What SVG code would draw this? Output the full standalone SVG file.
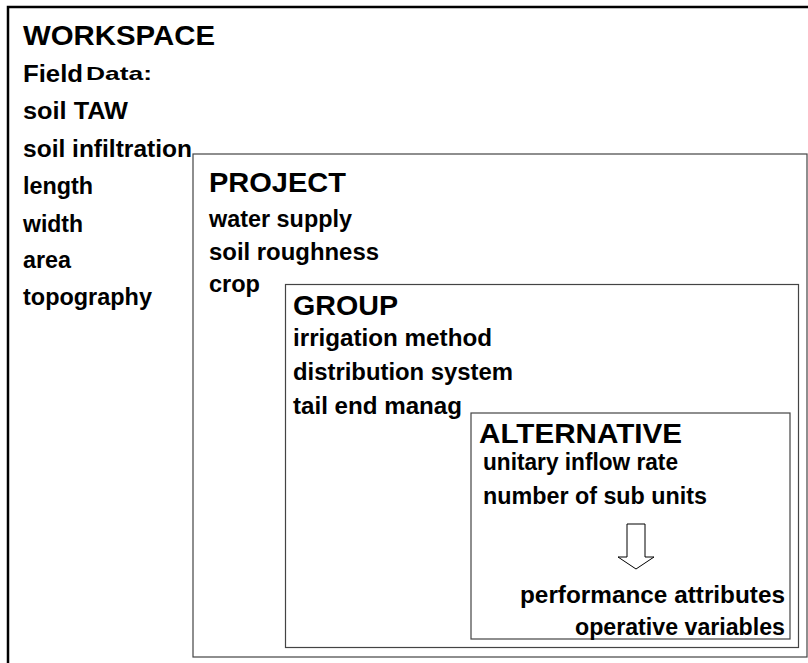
<svg xmlns="http://www.w3.org/2000/svg" width="808" height="663" viewBox="0 0 808 663">
<style>
text{font-family:"Liberation Sans",Arial,sans-serif;font-weight:bold;fill:#000}
.t{font-size:28px}
.b{font-size:23px}
.box{fill:none;stroke:#444;stroke-width:1.2}
</style>
<rect width="808" height="663" fill="#fff"/>
<g id="workspace">
<rect x="8" y="7" width="830" height="690" fill="none" stroke="#000" stroke-width="2.5"/>
<text class="t" x="23" y="45" textLength="192" lengthAdjust="spacingAndGlyphs">WORKSPACE</text>
<text x="23" y="82" style="font-size:24px" textLength="60" lengthAdjust="spacingAndGlyphs">Field</text>
<text x="86" y="80" style="font-size:19px" textLength="66" lengthAdjust="spacingAndGlyphs">Data:</text>
<text class="b" x="23" y="119" textLength="105" lengthAdjust="spacingAndGlyphs">soil  TAW</text>
<text class="b" x="23" y="157" textLength="169" lengthAdjust="spacingAndGlyphs">soil  infiltration</text>
<text class="b" x="23" y="194" textLength="70" lengthAdjust="spacingAndGlyphs">length</text>
<text class="b" x="23" y="232" textLength="60" lengthAdjust="spacingAndGlyphs">width</text>
<text class="b" x="23" y="268" textLength="48" lengthAdjust="spacingAndGlyphs">area</text>
<text class="b" x="23" y="305" textLength="129" lengthAdjust="spacingAndGlyphs">topography</text>
</g>
<g id="project">
<rect class="box" x="193" y="154" width="614" height="503" fill="#fff"/>
<text class="t" x="209" y="192" textLength="137" lengthAdjust="spacingAndGlyphs">PROJECT</text>
<text class="b" x="209" y="227" textLength="143" lengthAdjust="spacingAndGlyphs">water supply</text>
<text class="b" x="209" y="260" textLength="170" lengthAdjust="spacingAndGlyphs">soil roughness</text>
<text class="b" x="209" y="292" textLength="51" lengthAdjust="spacingAndGlyphs">crop</text>
</g>
<g id="group">
<rect class="box" x="285.5" y="284.5" width="513" height="363"/>
<text class="t" x="293" y="315" textLength="105" lengthAdjust="spacingAndGlyphs">GROUP</text>
<text class="b" x="293" y="346" textLength="199" lengthAdjust="spacingAndGlyphs">irrigation method</text>
<text class="b" x="293" y="380" textLength="220" lengthAdjust="spacingAndGlyphs">distribution system</text>
<text class="b" x="293" y="414" textLength="169" lengthAdjust="spacingAndGlyphs">tail end manag</text>
</g>
<g id="alternative">
<rect class="box" x="471" y="413" width="319" height="226"/>
<text class="t" x="479" y="443" textLength="203" lengthAdjust="spacingAndGlyphs">ALTERNATIVE</text>
<text class="b" x="483" y="470" textLength="195" lengthAdjust="spacingAndGlyphs">unitary inflow rate</text>
<text class="b" x="483" y="504" textLength="224" lengthAdjust="spacingAndGlyphs">number of sub units</text>
<text class="b" x="520" y="603" textLength="265" lengthAdjust="spacingAndGlyphs">performance  attributes</text>
<text class="b" x="575" y="635" textLength="210" lengthAdjust="spacingAndGlyphs">operative variables</text>
</g>
<g id="connectors">
<path d="M627 524 H645 V557 H654 L636 569 L618 557 H627 Z" fill="#fff" stroke="#000" stroke-width="1"/>
</g>
</svg>
